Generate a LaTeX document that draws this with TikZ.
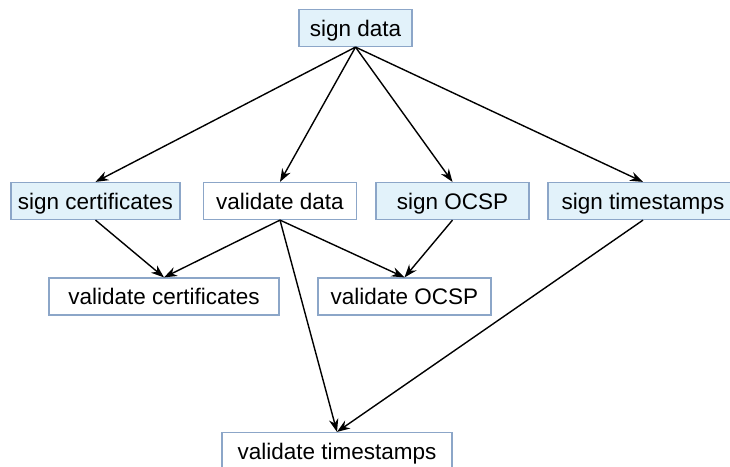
\documentclass[tikz,border=0pt]{standalone}
\usepackage{fontspec}
\setmainfont{Liberation Sans}
\usetikzlibrary{arrows.meta}
\definecolor{boxfill}{RGB}{226,242,250}
\definecolor{boxline}{RGB}{140,166,200}
\begin{document}
\begin{tikzpicture}[x=1pt,y=-1pt,
  task/.style={draw=boxline,line width=1.2pt,rectangle,inner sep=0pt,
    minimum height=37pt,text height=16pt,text depth=0pt,
    font=\fontsize{22.5}{26}\selectfont},
  signtask/.style={task,fill=boxfill},
  checktask/.style={task,fill=white},
  dep/.style={-{Stealth[length=13pt,width=9.5pt]},line width=1.4pt}]
  \useasboundingbox (0,0) rectangle (730,466);

  \node[signtask,minimum width=113pt] (signdata) at (355.5,28) {sign data};

  \node[signtask,minimum width=169pt] (signcert) at (95.5,201) {sign certificates};
  \node[checktask,minimum width=153pt] (checkdata) at (280,201) {validate data};
  \node[signtask,minimum width=153pt] (signocsp) at (452.5,201) {sign OCSP};
  \node[signtask,minimum width=190pt] (signtime) at (643,201) {sign timestamps};

  \node[checktask,minimum width=230pt] (checkcert) at (164,296.5) {validate certificates};
  \node[checktask,minimum width=173pt] (checkocsp) at (404.5,296.5) {validate OCSP};
  \node[checktask,minimum width=230pt] (checktime) at (337,451) {validate timestamps};

  \draw[dep] (signdata.south) -- (signcert.north);
  \draw[dep] (signdata.south) -- (checkdata.north);
  \draw[dep] (signdata.south) -- (signocsp.north);
  \draw[dep] (signdata.south) -- (signtime.north);

  \draw[dep] (signcert.south) -- (checkcert.north);
  \draw[dep] (checkdata.south) -- (checkcert.north);
  \draw[dep] (checkdata.south) -- (checkocsp.north);
  \draw[dep] (checkdata.south) -- (checktime.north);
  \draw[dep] (signocsp.south) -- (checkocsp.north);
  \draw[dep] (signtime.south) -- (checktime.north);
\end{tikzpicture}
\end{document}
